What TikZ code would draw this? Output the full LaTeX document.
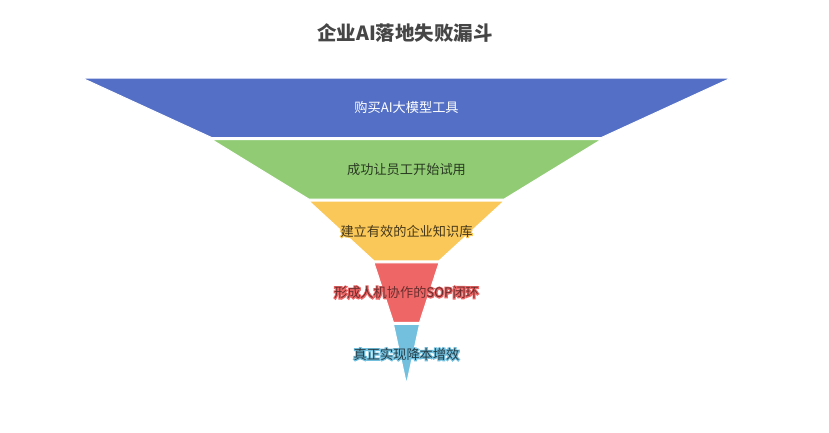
\documentclass[tikz,border=0pt]{standalone}
\usepackage{fontspec}
\setmainfont{Noto Sans CJK SC}
\definecolor{c1}{HTML}{5470C6}
\definecolor{c2}{HTML}{91CC75}
\definecolor{c3}{HTML}{FAC858}
\definecolor{c4}{HTML}{EE6666}
\definecolor{c5}{HTML}{73C0DE}
\definecolor{ttl}{HTML}{464646}
\colorlet{t2}{c2!28!black}
\colorlet{t3}{c3!28!black}
\colorlet{t4}{c4!45!black}
\colorlet{t5}{c5!32!black}
\begin{document}
\begin{tikzpicture}[x=1pt,y=-1pt,
  seg/.style={draw=white,line width=1pt,line join=miter},
  lab/.style={font=\fontsize{13.2}{15}\selectfont, inner sep=0pt},
  halo/.style={font=\fontsize{13.2}{15}\selectfont\addfontfeature{FakeBold=16}, inner sep=0pt}]
\useasboundingbox[fill=white] (0,0) rectangle (829,432);
\def\cx{406.5}
% layers
\path[seg,fill=c1] ({\cx-324.5},78) -- ({\cx+324.5},78) -- ({\cx+194.7},137.6) -- ({\cx-194.7},137.6) -- cycle;
\path[seg,fill=c2] ({\cx-194.7},139.6) -- ({\cx+194.7},139.6) -- ({\cx+97.4},199.2) -- ({\cx-97.4},199.2) -- cycle;
\path[seg,fill=c3] ({\cx-97.4},201.2) -- ({\cx+97.4},201.2) -- ({\cx+32.5},260.8) -- ({\cx-32.5},260.8) -- cycle;
\path[seg,fill=c4] ({\cx-32.5},262.8) -- ({\cx+32.5},262.8) -- ({\cx+13},322.4) -- ({\cx-13},322.4) -- cycle;
\path[seg,fill=c5] ({\cx-13},324.4) -- ({\cx+13},324.4) -- (\cx,384) -- cycle;
% title
\node[font=\fontsize{19.5}{22}\selectfont\bfseries, text=ttl, inner sep=0pt] (title) at (405,33) {企业AI落地失败漏斗};
% labels
\node[lab,text=white] (l1) at (\cx,107.3) {购买AI大模型工具};
\node[halo,text=c2] (h2) at (\cx,169.2) {成功让员工开始试用};
\node[lab,text=t2] (l2) at (\cx,169.2) {成功让员工开始试用};
\node[halo,text=c3] (h3) at (\cx,231) {建立有效的企业知识库};
\node[lab,text=t3] (l3) at (\cx,231) {建立有效的企业知识库};
\node[halo,text=c4] (h4) at (\cx,292.4) {形成人机协作的SOP闭环};
\node[lab,text=t4] (l4) at (\cx,292.4) {形成人机协作的SOP闭环};
\node[halo,text=c5] (h5) at (\cx,354.2) {真正实现降本增效};
\node[lab,text=t5] (l5) at (\cx,354.2) {真正实现降本增效};
\end{tikzpicture}
\end{document}
